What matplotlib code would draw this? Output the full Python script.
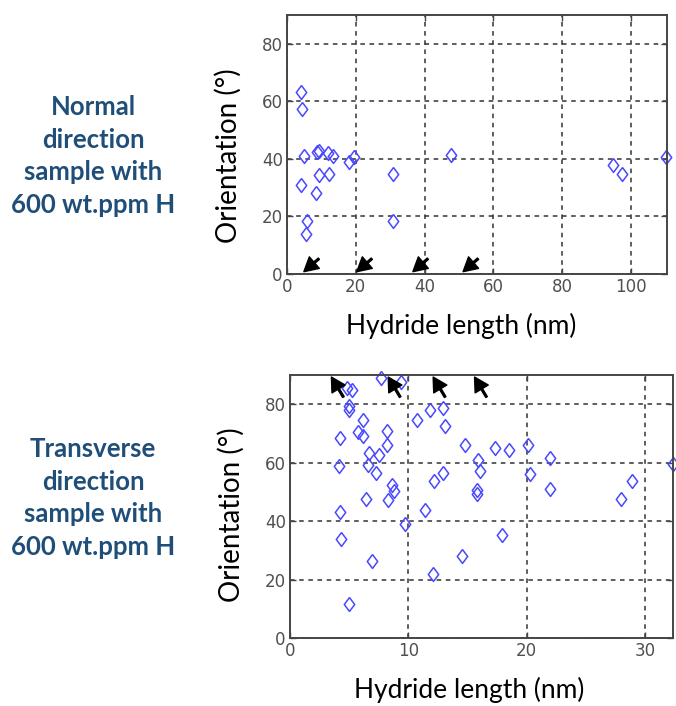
import matplotlib.pyplot as plt
import numpy as np

# normal direction sample, 600 wt.ppm H
nd_length = [4.0, 4.5, 4.9, 4.0, 5.9, 5.4, 8.3, 9.3, 9.3, 8.8, 12.0, 13.5,
             12.2, 18.0, 19.5, 30.9, 30.9, 47.6, 94.9, 97.5, 110.2]
nd_angle = [63.1, 57.3, 40.9, 30.8, 18.4, 13.8, 28.1, 34.5, 42.9, 42.3, 42.0, 40.9,
            34.8, 38.9, 40.6, 34.8, 18.4, 41.5, 37.9, 34.8, 40.6]
nd_arrows = [4.9, 20.3, 36.6, 51.2]

# transverse direction sample, 600 wt.ppm H
td_length = [7.7, 9.4, 4.8, 5.2, 5.0, 5.0, 6.2, 5.75, 6.2, 4.2, 8.2, 8.2, 6.7,
             7.5, 4.1, 6.6, 7.3, 8.6, 8.8, 6.45, 8.25, 4.2, 9.7, 4.3, 6.9, 12.1,
             14.5, 5.0, 11.4, 10.7, 11.8, 12.9, 13.1, 14.8, 15.9, 16.05, 15.8,
             15.8, 17.3, 18.5, 20.1, 20.3, 12.95, 12.2, 22.0, 22.0, 28.9, 28.0,
             32.4, 17.9]
td_angle = [89.0, 87.5, 85.5, 85.0, 79.5, 78.0, 74.5, 70.6, 69.0, 68.5, 71.0,
            66.0, 63.5, 62.7, 58.8, 59.2, 56.4, 52.4, 50.4, 47.6, 47.2, 43.3,
            39.0, 33.8, 26.4, 22.0, 28.1, 11.6, 44.0, 74.6, 78.0, 78.8, 72.7,
            66.0, 61.0, 57.2, 50.8, 49.2, 65.0, 64.4, 66.0, 56.0, 56.4, 53.6,
            61.5, 50.9, 53.9, 47.5, 59.6, 35.3]
td_arrows = [3.5, 8.3, 12.1, 15.6]

diamond = [(0, 1), (0.75, 0), (0, -1), (-0.75, 0), (0, 1)]
blue = '#4848ff'
frame = '#454545'
caption_color = '#1f4e79'


def style_axes(ax, xmax, xticks):
    ax.set_xlim(0, xmax)
    ax.set_ylim(0, 90)
    ax.set_xticks(xticks)
    ax.set_yticks([0, 20, 40, 60, 80])
    ax.grid(True, color='#333333', linestyle=(0, (3, 3)), linewidth=1.1)
    ax.tick_params(direction='in', length=4, width=1, colors=frame,
                   labelcolor='#505050', labelsize=12, top=True, right=True, pad=3)
    for s in ax.spines.values():
        s.set_color(frame)
        s.set_linewidth(1.4)
    for lbl in ax.get_xticklabels() + ax.get_yticklabels():
        lbl.set_family('DejaVu Sans')


def draw_arrows(ax, xs, y, offset):
    for x in xs:
        ax.annotate('', xy=(x, y), xytext=offset, textcoords='offset pixels',
                    arrowprops=dict(facecolor='black', edgecolor='black', width=1.3,
                                    headwidth=11, headlength=10, shrink=0))


fig = plt.figure(figsize=(6.76, 7.06), dpi=100)

ax1 = fig.add_axes([287 / 676, 1 - 274 / 706, 380 / 676, 259 / 706])
ax1.plot(nd_length, nd_angle, linestyle='none', marker=diamond, markersize=10,
         markerfacecolor='none', markeredgecolor=blue, markeredgewidth=1.1, clip_on=False)
draw_arrows(ax1, nd_arrows, 0.8, (15, 13))
style_axes(ax1, 110.5, [0, 20, 40, 60, 80, 100])

ax2 = fig.add_axes([290 / 676, 1 - 638.3 / 706, 383.3 / 676, 263.3 / 706])
ax2.plot(td_length, td_angle, linestyle='none', marker=diamond, markersize=10,
         markerfacecolor='none', markeredgecolor=blue, markeredgewidth=1.1, clip_on=False)
draw_arrows(ax2, td_arrows, 89.3, (12, -20))
style_axes(ax2, 32.4, [0, 10, 20, 30])

xlab_font = dict(family='Lato', fontsize=19, color='black', ha='center', va='center')
ylab_font = dict(family='Lato', fontsize=20, color='black', ha='center', va='center',
                 rotation=90)
fig.text(461 / 676, 1 - 326 / 706, 'Hydride length (nm)', **xlab_font)
fig.text(228 / 676, 1 - 156 / 706, 'Orientation (°)', **ylab_font)
fig.text(469 / 676, 1 - 690 / 706, 'Hydride length (nm)', **xlab_font)
fig.text(231 / 676, 1 - 515 / 706, 'Orientation (°)', **ylab_font)

cap_font = dict(family='Lato', fontsize=18.5, fontweight='bold', color=caption_color,
                ha='center', va='center', linespacing=1.42)
fig.text(93 / 676, 1 - 156 / 706, 'Normal\ndirection\nsample with\n600 wt.ppm H', **cap_font)
fig.text(93 / 676, 1 - 498 / 706, 'Transverse\ndirection\nsample with\n600 wt.ppm H', **cap_font)

fig.savefig('out.png', dpi=100)
